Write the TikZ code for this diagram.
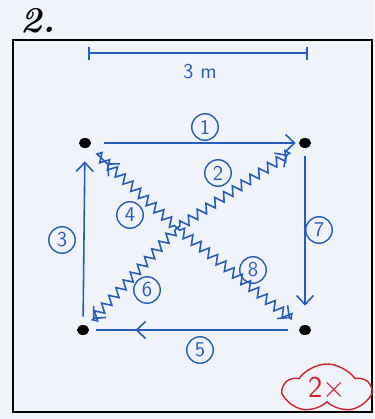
\documentclass[tikz,border=0pt]{standalone}
\usepackage{amsmath}
\usepackage{tikz}
\usetikzlibrary{arrows.meta, positioning, calc, decorations.pathmorphing, decorations.markings, shapes}

\definecolor{pen}{RGB}{38,92,188}
\definecolor{redpen}{RGB}{212,32,44}
\definecolor{paper}{RGB}{240,243,249}

\begin{document}
\begin{tikzpicture}[
  x=0.2mm, y=-0.2mm,
  dot/.style={ellipse, fill=black, inner sep=0pt, minimum width=2.4mm, minimum height=2mm},
  run/.style={-{Straight Barb[length=1.8mm, width=3.4mm]}, pen, line width=0.9pt},
  zz/.style={run, decorate,
             decoration={zigzag, segment length=6pt, amplitude=2.6pt,
                         pre length=2pt, post length=4pt}},
  num/.style={draw=pen, circle, line width=0.8pt, minimum size=5.3mm,
              inner sep=0pt, text=pen, font=\large\sffamily},
  bar/.style={{Bar[width=2.6mm]}-{Bar[width=2.6mm]}, pen, line width=1.1pt},
]
% Paper and frame
\fill[paper] (0,0) rectangle (374,419);
\useasboundingbox (0,0) rectangle (374,419);
\draw[line width=1.6pt] (373,40) -- (13,40) -- (13,412) -- (372,412) -- (372,40);
\node[font=\huge\bfseries\itshape] (title) at (38,21) {2.};

% Scale bar
\coordinate (sbl) at (88,53);
\coordinate (sbr) at (308,53);
\draw[bar] (sbl) -- (sbr);
\node[text=pen, font=\large\sffamily] (len) at (200,72) {3 m};

% Corners
\node[dot] (tl) at (85,143) {};
\node[dot] (tr) at (305,143) {};
\node[dot] (bl) at (83,330) {};
\node[dot] (br) at (305,330) {};
\coordinate (c) at (177,228);

% Sides
\draw[run, shorten <=2.5mm, shorten >=0.6mm] (tl.east) -- (tr.west);
\draw[run, shorten <=1.6mm, shorten >=3.8mm] (tr) -- (br);
\draw[pen, line width=0.9pt, shorten <=2.2mm, shorten >=1.4mm,
      postaction={decorate},
      decoration={markings, mark=at position 0.78 with
        {\arrow{Straight Barb[length=1.8mm, width=3.4mm]}}}] (br) -- (bl);
\draw[run, shorten <=1.6mm, shorten >=2.6mm] (bl) -- (tl);

% Diagonals
\draw[zz, shorten >=4.8mm] (c) -- (tl);
\draw[zz, shorten >=3mm] (c) -- (tr);
\draw[zz, shorten >=2.6mm] (c) -- (br);
\draw[zz, shorten >=1.8mm] (c) -- (bl);

% Numbers
\node[num] (n1) at (205,127) {1};
\node[num] (n2) at (218,173) {2};
\node[num] (n3) at (62,240) {3};
\node[num] (n4) at (130,215) {4};
\node[num] (n5) at (200,350) {5};
\node[num] (n6) at (147,290) {6};
\node[num] (n7) at (319,230) {7};
\node[num] (n8) at (253,270) {8};

% Repeats
\node[cloud, cloud puffs=5, cloud puff arc=110, aspect=1.8, draw=redpen, line width=0.8pt,
      text=redpen, font=\LARGE\sffamily, minimum width=17mm, minimum height=10mm,
      inner sep=0pt] (rep) at (327,389) {2$\times$};
\end{tikzpicture}
\end{document}
